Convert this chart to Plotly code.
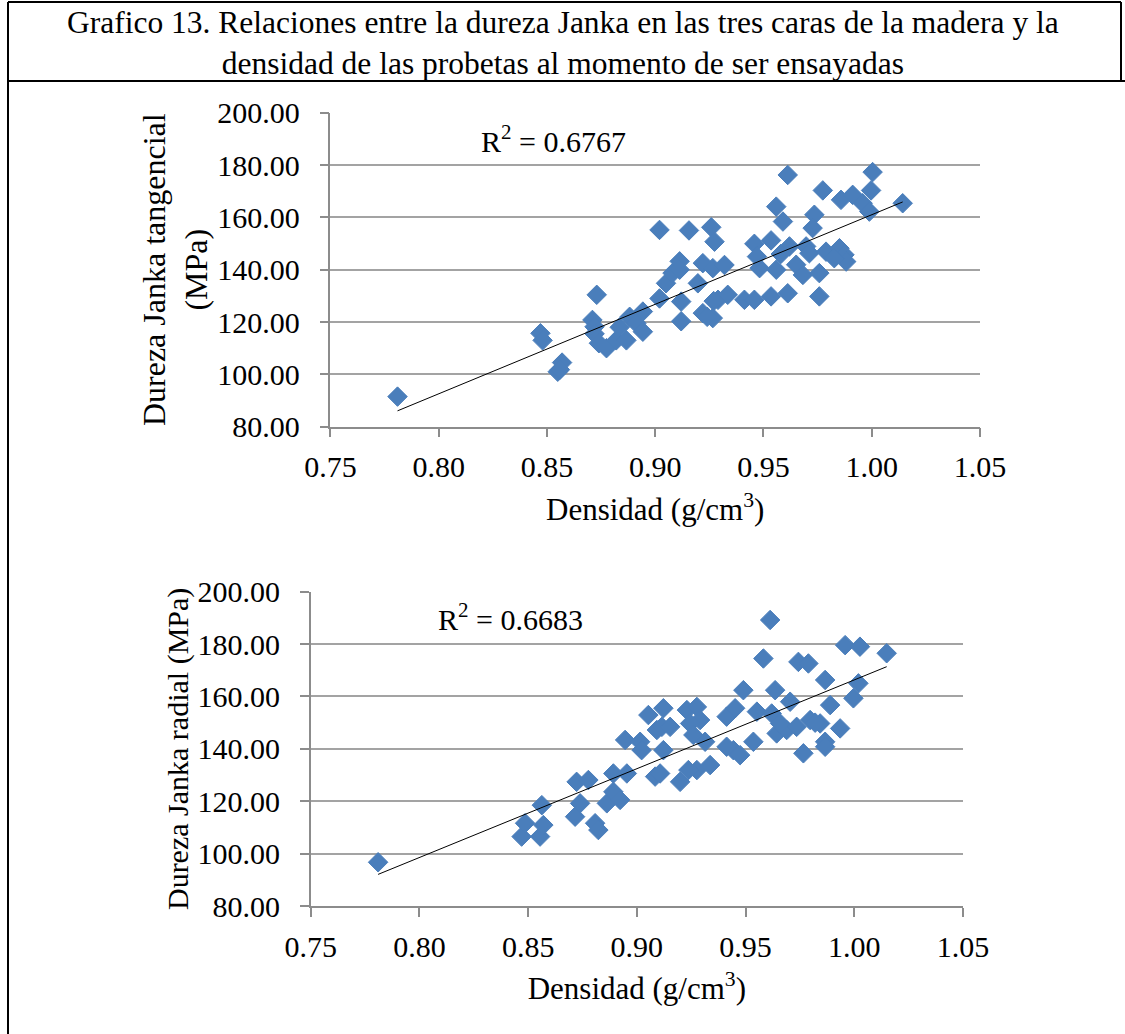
import numpy as np
import plotly.graph_objects as go

# ---------------- data ----------------
densidad_tan = [0.781, 0.847, 0.848, 0.855, 0.857, 0.856, 0.873, 0.871, 0.872, 0.872,
                0.874, 0.8775, 0.882, 0.8836, 0.8867, 0.8882, 0.8913, 0.8943, 0.8943, 0.902,
                0.902, 0.905, 0.908, 0.912, 0.9156, 0.9259, 0.9274, 0.9113, 0.9113, 0.912,
                0.9197, 0.922, 0.9266, 0.932, 0.922, 0.9266, 0.929, 0.9335, 0.9412, 0.9458,
                0.9535, 0.9612, 0.9758, 0.9458, 0.9535, 0.9482, 0.9559, 0.962, 0.9651, 0.9682,
                0.9697, 0.9712, 0.9758, 0.9559, 0.959, 0.9612, 0.9735, 0.9727, 0.9774, 0.9789,
                0.9858, 0.9851, 0.9874, 0.9882, 0.9827, 0.9912, 0.9958, 0.9989, 0.9997, 1.0004,
                1.0143, 0.947, 0.958, 0.924, 0.927]
dureza_tan = [91.5, 115.7, 113.0, 101.0, 104.5, 101.8, 130.4, 120.8, 118.2, 115.5,
              111.9, 110.0, 113.0, 118.0, 113.0, 122.0, 119.5, 116.3, 124.0, 155.2,
              129.0, 134.8, 138.7, 120.3, 155.0, 156.2, 150.7, 143.2, 140.0, 127.8,
              134.8, 142.5, 140.6, 141.8, 123.4, 121.5, 128.5, 130.4, 128.5, 128.5,
              129.8, 131.0, 129.8, 149.9, 151.2, 140.6, 140.0, 148.9, 141.9, 138.0,
              148.9, 146.3, 138.7, 164.1, 158.4, 176.2, 161.0, 155.9, 170.3, 146.9,
              166.7, 148.2, 145.7, 143.1, 144.4, 168.6, 165.4, 162.2, 170.3, 177.3,
              165.4, 145.0, 146.0, 122.0, 128.0]
r2_tan = "0.6767"

densidad_rad = [0.781, 0.847, 0.8486, 0.8555, 0.857, 0.8563, 0.8716, 0.8723, 0.8739, 0.8777,
                0.8808, 0.8823, 0.8862, 0.8892, 0.8892, 0.8923, 0.8954, 0.8946, 0.9015, 0.9022,
                0.9053, 0.9084, 0.9092, 0.9122, 0.9115, 0.9153, 0.9122, 0.9107, 0.9199, 0.923,
                0.9276, 0.9291, 0.9245, 0.926, 0.9314, 0.9276, 0.9337, 0.9237, 0.9413, 0.9452,
                0.949, 0.9444, 0.9475, 0.9536, 0.9552, 0.9582, 0.9613, 0.9636, 0.962, 0.9643,
                0.9705, 0.9689, 0.9743, 0.9789, 0.9735, 0.9766, 0.9797, 0.9843, 0.9866, 0.9889,
                0.9866, 0.9866, 0.9935, 0.9958, 1.0026, 1.0019, 0.9996, 1.0149, 0.9659, 0.982,
                0.9413]
dureza_rad = [96.7, 106.5, 111.6, 106.5, 110.9, 118.5, 114.1, 127.4, 119.2, 128.1,
              111.6, 109.0, 119.2, 130.6, 123.6, 120.5, 130.6, 143.4, 142.7, 139.5,
              152.9, 129.4, 147.2, 155.5, 148.4, 148.4, 139.5, 130.6, 127.4, 154.8,
              156.0, 151.0, 149.7, 145.3, 142.7, 131.9, 133.8, 131.9, 152.3, 155.5,
              162.4, 139.5, 137.6, 142.7, 154.2, 174.5, 189.2, 162.4, 153.5, 145.9,
              158.0, 147.2, 173.2, 172.6, 148.4, 138.3, 151.0, 149.7, 166.3, 156.7,
              142.7, 140.8, 147.8, 179.6, 179.0, 165.0, 159.3, 176.5, 149.7, 150.0,
              140.8]
r2_rad = "0.6683"

x_ticks = [0.75, 0.80, 0.85, 0.90, 0.95, 1.00, 1.05]
y_ticks = [80, 100, 120, 140, 160, 180, 200]

titulo = ("Grafico 13. Relaciones entre la dureza Janka en las tres caras de la madera y la<br>"
          "densidad de las probetas al momento de ser ensayadas")

# ---------------- figure ----------------
W, H = 1125, 1034
FONT = "Liberation Serif, Times New Roman, serif"
BLUE = "#4a7ebb"
GRID = "#a3a3a3"
AXIS = "#8c8c8c"

fig = go.Figure()


def add_panel(xs, ys, xa, ya):
    fig.add_trace(go.Scatter(
        x=xs, y=ys, mode="markers", xaxis=xa, yaxis=ya,
        marker=dict(symbol="diamond", size=15, color=BLUE,
                    line=dict(color=BLUE, width=1)),
        showlegend=False, hoverinfo="x+y"))
    b, a = np.polyfit(xs, ys, 1)
    xl = np.array([min(xs), max(xs)])
    fig.add_trace(go.Scatter(
        x=xl, y=a + b * xl, mode="lines", xaxis=xa, yaxis=ya,
        line=dict(color="black", width=1), showlegend=False, hoverinfo="skip"))


add_panel(densidad_tan, dureza_tan, "x", "y")
add_panel(densidad_rad, dureza_rad, "x2", "y2")


def px_x(p):
    return p / W


def px_y(p):
    return 1 - p / H


axis_common = dict(
    automargin=False,
    showgrid=False, zeroline=False, showline=True, linecolor=AXIS, linewidth=1.5,
    ticks="outside", ticklen=9, tickwidth=1.5, tickcolor=AXIS,
    tickfont=dict(family=FONT, size=30, color="black"),
    tickformat=".2f",
)

xa_common = dict(axis_common, range=[0.75, 1.05], tickvals=x_ticks, ticklabelstandoff=4,
                 title=dict(text="Densidad (g/cm<sup>3</sup>)",
                            font=dict(family=FONT, size=31, color="black"), standoff=16))
ya_common = dict(axis_common, range=[80, 200], tickvals=y_ticks, showgrid=True,
                 gridcolor=GRID, gridwidth=1.5, ticklabelstandoff=14)

fig.update_layout(
    width=W, height=H, autosize=False,
    margin=dict(l=0, r=0, t=0, b=0, pad=0, autoexpand=False),
    paper_bgcolor="white", plot_bgcolor="white",
    font=dict(family=FONT, color="black"),
    xaxis=dict(xa_common, domain=[px_x(330.4), px_x(980)], anchor="y"),
    yaxis=dict(ya_common, domain=[px_y(426.7), px_y(112.7)], anchor="x",
               title=dict(text="Dureza Janka tangencial<br>(MPa)",
                          font=dict(family=FONT, size=32, color="black"), standoff=0)),
    xaxis2=dict(xa_common, domain=[px_x(310.7), px_x(963)], anchor="y2"),
    yaxis2=dict(ya_common, domain=[px_y(906), px_y(591.7)], anchor="x2",
                title=dict(text="Dureza Janka radial (MPa)",
                           font=dict(family=FONT, size=30, color="black"), standoff=0)),
)

# R^2 labels
fig.add_annotation(x=0.853, y=190, xref="x", yref="y", showarrow=False,
                   text="R<sup>2</sup> = " + r2_tan,
                   font=dict(family=FONT, size=30, color="black"))
fig.add_annotation(x=0.842, y=190.3, xref="x2", yref="y2", showarrow=False,
                   text="R<sup>2</sup> = " + r2_rad,
                   font=dict(family=FONT, size=30, color="black"))

# Title box text
fig.add_annotation(x=0.5, y=px_y(43), xref="paper", yref="paper", showarrow=False,
                   xanchor="center", yanchor="middle",
                   text=titulo, align="center",
                   font=dict(family=FONT, size=31.5, color="black"))

# Frame lines
line_style = dict(color="black", width=2)
fig.add_shape(type="line", xref="paper", yref="paper",
              x0=px_x(8), x1=px_x(1121), y0=px_y(2), y1=px_y(2), line=line_style)
fig.add_shape(type="line", xref="paper", yref="paper",
              x0=px_x(8), x1=1, y0=px_y(81), y1=px_y(81), line=line_style)
fig.add_shape(type="line", xref="paper", yref="paper",
              x0=px_x(8), x1=px_x(8), y0=px_y(2), y1=0, line=line_style)
fig.add_shape(type="line", xref="paper", yref="paper",
              x0=px_x(1121), x1=px_x(1121), y0=px_y(2), y1=px_y(81), line=line_style)

fig.write_html("out.html", config={"displayModeBar": False},
               post_script="document.body.style.margin='0';document.body.style.overflow='hidden';")
